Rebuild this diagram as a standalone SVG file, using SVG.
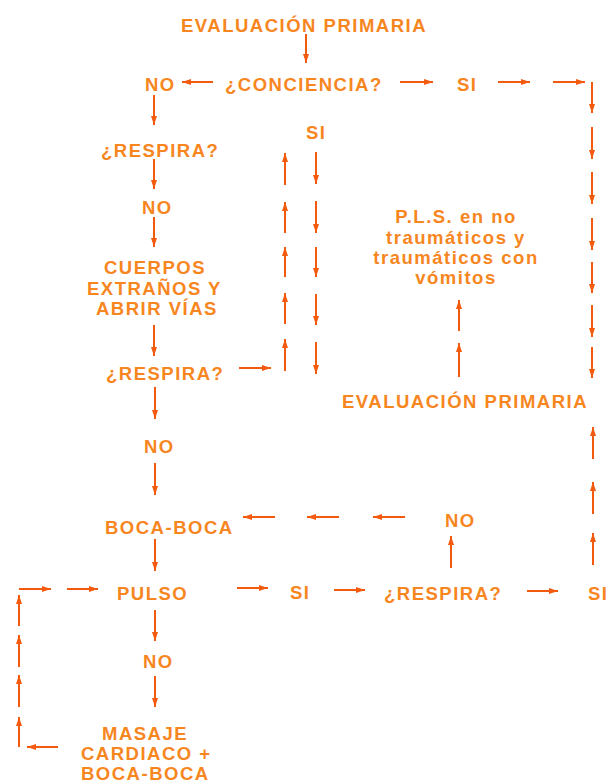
<svg xmlns="http://www.w3.org/2000/svg" width="612" height="780" viewBox="0 0 612 780">
<style>
text{font-family:"Liberation Sans",Arial,sans-serif;font-weight:bold;font-size:18.5px;letter-spacing:1.5px;fill:#F7861F}
.c{text-anchor:middle}
#connectors line{stroke:#F25A0E;stroke-width:2;marker-end:url(#ah)}
</style>
<defs>
<marker id="ah" markerUnits="userSpaceOnUse" markerWidth="10" markerHeight="8" refX="9" refY="3" orient="auto">
<path d="M0,0 L9,3 L0,6 Z" fill="#F25A0E"/>
</marker>
</defs>
<rect width="612" height="780" fill="#fff"/>
<g id="n-eval1"><text x="181" y="32">EVALUACIÓN PRIMARIA</text></g>
<g id="n-no1"><text x="145" y="91">NO</text></g>
<g id="n-conciencia"><text x="225" y="91">¿CONCIENCIA?</text></g>
<g id="n-si1"><text x="457" y="91">SI</text></g>
<g id="n-si2"><text x="306" y="139">SI</text></g>
<g id="n-respira1"><text x="101" y="157">¿RESPIRA?</text></g>
<g id="n-no2"><text x="142" y="214">NO</text></g>
<g id="n-cuerpos"><text x="104" y="274">CUERPOS</text><text x="87" y="295">EXTRAÑOS Y</text><text x="96" y="315">ABRIR VÍAS</text></g>
<g id="n-respira2"><text x="106" y="380">¿RESPIRA?</text></g>
<g id="n-pls"><text class="c" x="456" y="223">P.L.S. en no</text><text class="c" x="456" y="244">traumáticos y</text><text class="c" x="456" y="264">traumáticos con</text><text class="c" x="456" y="284">vómitos</text></g>
<g id="n-eval2"><text x="342" y="408">EVALUACIÓN PRIMARIA</text></g>
<g id="n-no3"><text x="144" y="453">NO</text></g>
<g id="n-boca1"><text x="105" y="534">BOCA-BOCA</text></g>
<g id="n-no4"><text x="445" y="527">NO</text></g>
<g id="n-pulso"><text x="117" y="600">PULSO</text></g>
<g id="n-si3"><text x="290" y="599">SI</text></g>
<g id="n-respira3"><text x="384" y="600">¿RESPIRA?</text></g>
<g id="n-si4"><text x="588" y="600">SI</text></g>
<g id="n-no5"><text x="143" y="668">NO</text></g>
<g id="n-masaje"><text x="102" y="740">MASAJE</text><text x="81" y="760">CARDIACO +</text><text x="81" y="780">BOCA-BOCA</text></g>
<g id="connectors">
<line x1="306" y1="34" x2="306" y2="63"/>
<line x1="213" y1="82" x2="182" y2="82"/>
<line x1="400" y1="82" x2="433" y2="82"/>
<line x1="498" y1="82" x2="530" y2="82"/>
<line x1="553" y1="82" x2="585" y2="82"/>
<line x1="592" y1="82" x2="592" y2="113"/>
<line x1="592" y1="127" x2="592" y2="159"/>
<line x1="592" y1="172" x2="592" y2="204"/>
<line x1="592" y1="218" x2="592" y2="250"/>
<line x1="592" y1="262" x2="592" y2="293"/>
<line x1="592" y1="305" x2="592" y2="337"/>
<line x1="592" y1="347" x2="592" y2="378"/>
<line x1="154" y1="95" x2="154" y2="125"/>
<line x1="154" y1="159" x2="154" y2="189"/>
<line x1="154" y1="217" x2="154" y2="247"/>
<line x1="154" y1="325" x2="154" y2="356"/>
<line x1="239" y1="368" x2="271" y2="368"/>
<line x1="285" y1="185" x2="285" y2="153"/>
<line x1="285" y1="233" x2="285" y2="202"/>
<line x1="285" y1="277" x2="285" y2="247"/>
<line x1="285" y1="324" x2="285" y2="293"/>
<line x1="285" y1="371" x2="285" y2="339"/>
<line x1="316" y1="152" x2="316" y2="184"/>
<line x1="316" y1="201" x2="316" y2="233"/>
<line x1="316" y1="247" x2="316" y2="277"/>
<line x1="316" y1="294" x2="316" y2="325"/>
<line x1="316" y1="342" x2="316" y2="374"/>
<line x1="459" y1="331" x2="459" y2="300"/>
<line x1="459" y1="377" x2="459" y2="343"/>
<line x1="155" y1="387" x2="155" y2="419"/>
<line x1="155" y1="463" x2="155" y2="495"/>
<line x1="275" y1="517" x2="243" y2="517"/>
<line x1="339" y1="517" x2="307" y2="517"/>
<line x1="405" y1="517" x2="373" y2="517"/>
<line x1="451" y1="568" x2="451" y2="536"/>
<line x1="155" y1="539" x2="155" y2="571"/>
<line x1="593" y1="459" x2="593" y2="427"/>
<line x1="593" y1="514" x2="593" y2="482"/>
<line x1="593" y1="565" x2="593" y2="533"/>
<line x1="237" y1="588" x2="268" y2="588"/>
<line x1="334" y1="590" x2="365" y2="590"/>
<line x1="527" y1="591" x2="558" y2="591"/>
<line x1="155" y1="610" x2="155" y2="641"/>
<line x1="155" y1="676" x2="155" y2="707"/>
<line x1="58" y1="747" x2="27" y2="747"/>
<line x1="19" y1="747" x2="19" y2="717"/>
<line x1="19" y1="707" x2="19" y2="675"/>
<line x1="19" y1="667" x2="19" y2="635"/>
<line x1="19" y1="626" x2="19" y2="595"/>
<line x1="19" y1="589" x2="51" y2="589"/>
<line x1="67" y1="589" x2="98" y2="589"/>
</g>
</svg>
